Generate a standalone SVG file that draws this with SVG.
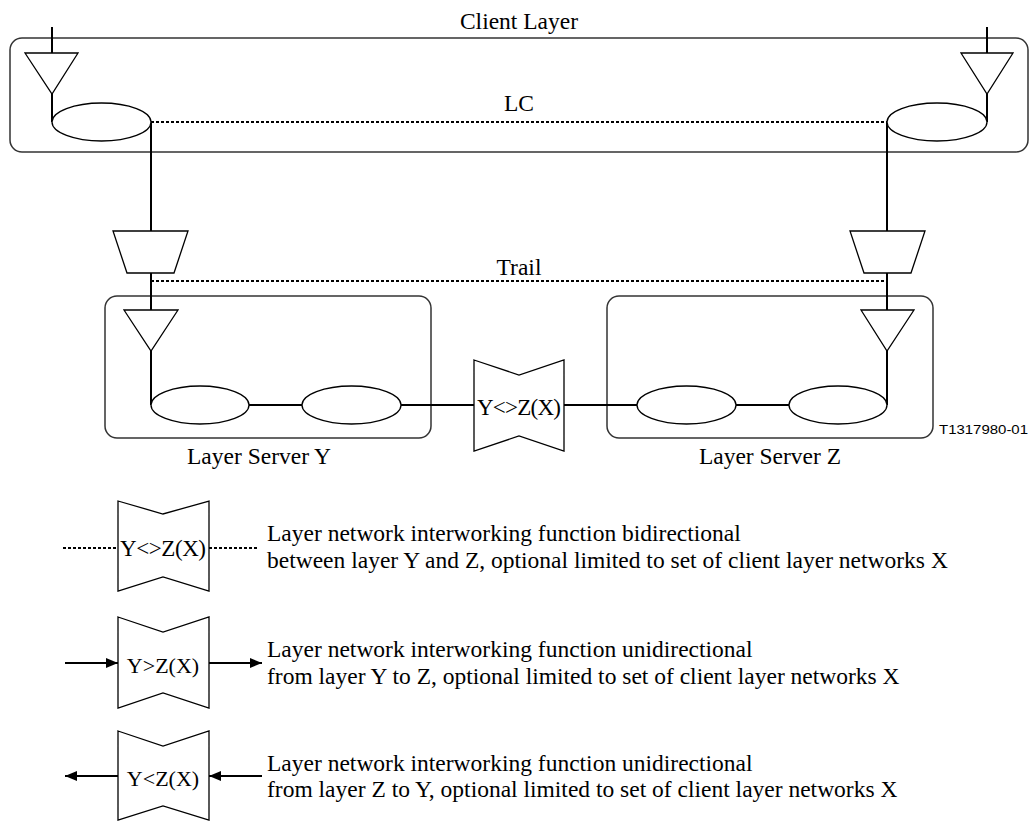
<svg xmlns="http://www.w3.org/2000/svg" width="1032" height="821" viewBox="0 0 1032 821">
<style>
.t{font-family:"Liberation Serif","Times New Roman",serif;font-size:23.5px;fill:#000}
.b{font-family:"Liberation Serif","Times New Roman",serif;font-size:22px;fill:#000}
.s{font-family:"Liberation Sans",Arial,sans-serif;font-size:12px;fill:#000}
.box{fill:none;stroke:#333;stroke-width:1.5}
.sh{fill:#fff;stroke:#000;stroke-width:1.3}
.ln{fill:none;stroke:#000;stroke-width:2}
.dt{fill:none;stroke:#000;stroke-width:2;stroke-dasharray:3 2}
</style>
<defs>
<marker id="ah" markerWidth="12" markerHeight="10" refX="12" refY="5" orient="auto" markerUnits="userSpaceOnUse">
<path d="M0,0 L12,5 L0,10 Z" fill="#000"/>
</marker>
</defs>
<rect width="1032" height="821" fill="#fff"/>

<g id="client-layer">
<rect class="box" x="10" y="38" width="1018" height="114" rx="12"/>
<text class="t" x="519" y="29" text-anchor="middle">Client Layer</text>
</g>
<g id="server-y">
<rect class="box" x="105" y="296" width="326" height="142" rx="12"/>
<text class="t" x="259" y="464" text-anchor="middle">Layer Server Y</text>
</g>
<g id="server-z">
<rect class="box" x="607" y="296" width="326" height="142" rx="12"/>
<text class="t" x="770" y="464" text-anchor="middle">Layer Server Z</text>
</g>

<g id="connectors">
<path class="ln" d="M52,27 V53 M52,94 V122"/>
<path class="ln" d="M987,27 V53 M987,94 V122"/>
<path class="ln" d="M151,122 V231 M151,273 V310 M151,351 V405"/>
<path class="ln" d="M887,122 V231 M887,273 V310 M887,351 V405"/>
<path class="ln" d="M249,405 H302 M401,405 H474 M564,405 H637 M736,405 H789"/>
<path class="dt" d="M151,122 H887"/>
<path class="dt" d="M151,281 H887"/>
</g>

<g id="lc-label"><text class="t" x="519" y="111" text-anchor="middle">LC</text></g>
<g id="trail-label"><text class="t" x="519" y="275" text-anchor="middle">Trail</text></g>

<g id="client-tt-left"><polygon class="sh" points="25,53 78,53 52,94"/></g>
<g id="client-tt-right"><polygon class="sh" points="961,53 1013,53 987,94"/></g>
<g id="client-lc-left"><ellipse class="sh" cx="101.5" cy="122" rx="49.5" ry="19"/></g>
<g id="client-lc-right"><ellipse class="sh" cx="937" cy="122" rx="50" ry="19"/></g>

<g id="adapt-left"><polygon class="sh" points="113,231 188,231 174,273 127,273"/></g>
<g id="adapt-right"><polygon class="sh" points="850,231 925,231 911,273 864,273"/></g>

<g id="y-tt"><polygon class="sh" points="124,310 178,310 151,351"/></g>
<g id="y-sn1"><ellipse class="sh" cx="200" cy="405" rx="49" ry="19"/></g>
<g id="y-sn2"><ellipse class="sh" cx="351.5" cy="405" rx="49.5" ry="19"/></g>

<g id="z-tt"><polygon class="sh" points="861,310 914,310 887,351"/></g>
<g id="z-sn1"><ellipse class="sh" cx="686.5" cy="405" rx="49.5" ry="19"/></g>
<g id="z-sn2"><ellipse class="sh" cx="838" cy="405" rx="49" ry="19"/></g>

<g id="iwf">
<polygon class="sh" points="474,360 519,375 564,360 564,451 519,436 474,451"/>
<text class="b" x="519" y="415" text-anchor="middle" style="font-size:23px" textLength="84" lengthAdjust="spacing">Y&lt;&gt;Z(X)</text>
</g>

<g id="figure-id"><text class="s" x="939" y="434" textLength="89" lengthAdjust="spacingAndGlyphs">T1317980-01</text></g>

<g id="legend-bi">
<path class="dt" d="M63,548 H118 M209,548 H257"/>
<polygon class="sh" points="118,501 163,514 209,501 209,591 163,577 118,591"/>
<text class="b" x="163" y="556" text-anchor="middle" style="font-size:23px" textLength="86" lengthAdjust="spacing">Y&lt;&gt;Z(X)</text>
<text class="t" x="267" y="541">Layer network interworking function bidirectional</text>
<text class="t" x="267" y="568">between layer Y and Z, optional limited to set of client layer networks X</text>
</g>

<g id="legend-yz">
<path class="ln" d="M65,663 H118" marker-end="url(#ah)"/>
<path class="ln" d="M209,663 H262" marker-end="url(#ah)"/>
<polygon class="sh" points="118,617 163,632 209,617 209,708 163,693 118,708"/>
<text class="b" x="163" y="673" text-anchor="middle">Y&gt;Z(X)</text>
<text class="t" x="267" y="657">Layer network interworking function unidirectional</text>
<text class="t" x="267" y="684">from layer Y to Z, optional limited to set of client layer networks X</text>
</g>

<g id="legend-zy">
<path class="ln" d="M118,776 H65" marker-end="url(#ah)"/>
<path class="ln" d="M262,776 H209" marker-end="url(#ah)"/>
<polygon class="sh" points="118,731 163,746 209,731 209,820 163,806 118,820"/>
<text class="b" x="163" y="786" text-anchor="middle">Y&lt;Z(X)</text>
<text class="t" x="267" y="771">Layer network interworking function unidirectional</text>
<text class="t" x="267" y="797">from layer Z to Y, optional limited to set of client layer networks X</text>
</g>
</svg>
